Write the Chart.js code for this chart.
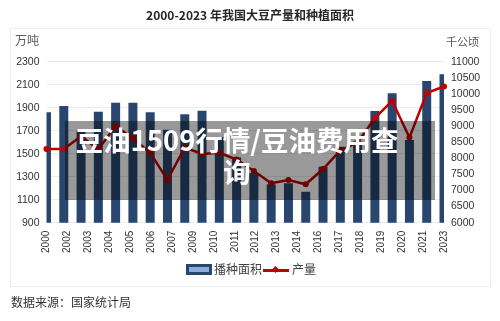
<!DOCTYPE html>
<html>
<head>
<meta charset="utf-8">
<script src="https://cdn.jsdelivr.net/npm/chart.js"></script>
<style>
  html, body { margin:0; padding:0; background:#fff; }
  #wrap { position:relative; width:500px; height:321px; overflow:hidden; font-family:"Noto Sans CJK SC", sans-serif; }
  #frame { position:absolute; left:10px; top:28px; width:481px; height:259px; border:1px solid #eeeeee; box-sizing:border-box; }
  #c { position:absolute; left:0; top:0; }
  .txt { position:absolute; white-space:nowrap; }
  #title { left:0; width:500px; top:6px; text-align:center; font-size:12px; font-weight:bold; color:#262626; line-height:18px; }
  #uL { left:15px; top:31px; font-size:12px; color:#595959; line-height:18px; }
  #uR { left:446px; top:32px; font-size:11px; color:#595959; line-height:18px; }
  #legend { position:absolute; left:185px; top:262px; height:16px; font-size:12px; color:#404040; }
  .sw1 { position:absolute; left:1px; top:2px; width:26px; height:11px; background:#29466f; }
  .sw1 i { position:absolute; left:3px; top:3px; width:20px; height:5px; background:#8faadc; }
  .lt1 { position:absolute; left:29px; top:-2px; line-height:18px; }
  .sw2 { position:absolute; left:78px; top:7px; width:26px; height:3px; background:#c00000; }
  .sw2 i { position:absolute; left:10px; top:-2.5px; width:5px; height:5px; background:#c00000; transform:rotate(45deg); }
  .lt2 { position:absolute; left:107px; top:-2px; line-height:18px; }
  #src { left:11px; top:293px; font-size:12px; color:#333; line-height:18px; }
  #overlay { position:absolute; left:65px; top:121px; width:370px; height:79px; background:rgba(0,0,0,0.4);
             box-sizing:border-box; padding:2px 26px 0 0; text-align:center; color:#fff; font-weight:bold;
             font-size:27.5px; line-height:32px; font-family:"Noto Sans CJK SC", sans-serif; }
</style>
</head>
<body>
<div id="wrap">
  <div id="frame"></div>
  <canvas id="c" width="500" height="321"></canvas>
  <div class="txt" id="title">2000-2023 年我国大豆产量和种植面积</div>
  <div class="txt" id="uL">万吨</div>
  <div class="txt" id="uR">千公顷</div>
  <div id="legend">
    <div class="sw1"><i></i></div><div class="txt lt1">播种面积</div>
    <div class="sw2"><i></i></div><div class="txt lt2">产量</div>
  </div>
  <div class="txt" id="src">数据来源：国家统计局</div>
  <div id="overlay">豆油1509行情/豆油费用查<br>询</div>
</div>
<script>
// ---- data ----
const categories = ['2000','2001','2002','2003','2004','2005','2006','2007','2008','2009','2010','2011',
                    '2012','2013','2014','2015','2016','2017','2018','2019','2020','2021','2022','2023'];
const tickLabels = ['2000','2002','2003','2004','2005','2006','2007','2009','2010','2011','2012','2013',
                    '2014','2016','2017','2018','2019','2020','2021','2023'];
// 播种面积 (千公顷), right axis
const areaValues = [9430, 9624, 8855, 9447, 9727, 9727, 9429, 8890, 9367, 9478, 8650, 8025,
                    7540, 7193, 7224, 6963, 7739, 8360, 8520, 9469, 10019, 8568, 10400, 10609];
// 产量 (万吨), left axis
const outputValues = [1541, 1541, 1651, 1539, 1740, 1635, 1508, 1273, 1554, 1498, 1508, 1449,
                      1350, 1243, 1271, 1234, 1367, 1528, 1597, 1809, 1960, 1640, 2028, 2084];
const leftTicks = { min: 900, max: 2300, step: 200 };
const rightTicks = { min: 6000, max: 11000, step: 500 };

const tickFont = { family: 'Liberation Sans', size: 10.5 };
const plain = v => String(v);

new Chart(document.getElementById('c'), {
  data: {
    labels: categories,
    datasets: [
      {
        type: 'line', label: '产量', data: outputValues, yAxisID: 'y', xAxisID: 'x', order: 0,
        borderColor: '#c00000', backgroundColor: '#c00000', borderWidth: 2.5,
        pointStyle: 'circle', pointRadius: 3, pointBackgroundColor: '#c00000', pointBorderWidth: 0,
        tension: 0, clip: 10
      },
      {
        type: 'bar', label: '播种面积', data: areaValues, yAxisID: 'y1', xAxisID: 'x', order: 1,
        backgroundColor: '#29466f', borderWidth: 0,
        categoryPercentage: 1, barPercentage: 0.52
      }
    ]
  },
  options: {
    responsive: false,
    animation: false,
    devicePixelRatio: 1,
    layout: { padding: { top: 61.7, left: 0, right: 0, bottom: 0 } },
    plugins: { legend: { display: false }, title: { display: false }, tooltip: { enabled: false } },
    scales: {
      x: { type: 'category', display: false, offset: false },
      x2: {
        type: 'category', axis: 'x', position: 'bottom', labels: tickLabels, offset: false,
        grid: { display: false, drawTicks: false }, border: { display: false },
        ticks: { autoSkip: false, minRotation: 90, maxRotation: 90, padding: 8, font: { family: 'Liberation Sans', size: 10 }, color: '#333' },
        afterFit: s => { s.height = 98.3; }
      },
      y: {
        position: 'left', min: leftTicks.min, max: leftTicks.max,
        ticks: { stepSize: leftTicks.step, padding: 7, font: tickFont, color: '#333', callback: plain },
        grid: { color: '#ebebeb', drawTicks: false }, border: { display: false },
        afterFit: s => { s.width = 46.5; }
      },
      y1: {
        position: 'right', min: rightTicks.min, max: rightTicks.max,
        ticks: { stepSize: rightTicks.step, padding: 7, font: tickFont, color: '#333', callback: plain },
        grid: { display: false, drawTicks: false }, border: { display: false },
        afterFit: s => { s.width = 56; }
      }
    }
  }
});
</script>
</body>
</html>
